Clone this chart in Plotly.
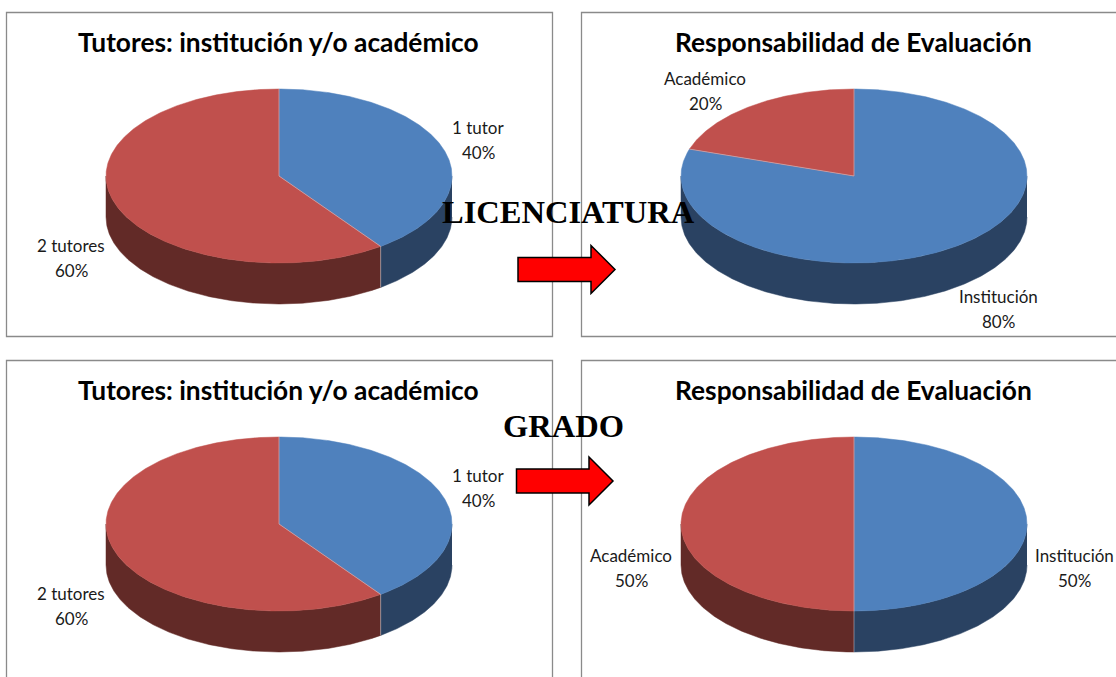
import numpy as np
import plotly.graph_objects as go

# ---- data ----
tutor_labels = ["1 tutor", "2 tutores"]
tutor_lic_values = [40, 60]
tutor_grado_values = [40, 60]
eval_labels = ["Institución", "Académico"]
eval_lic_values = [80, 20]
eval_grado_values = [50, 50]
title_tutor = "Tutores: institución y/o académico"
title_eval = "Responsabilidad de Evaluación"
heading_lic = "LICENCIATURA"
heading_grado = "GRADO"

# ---- style and layout (page pixels) ----
W, H = 1116, 677
TOP = ["#4F81BD", "#C0504D"]
SIDE = ["#2A4262", "#622A27"]
SEAM = "rgba(225,225,230,0.45)"
RX, RY, DEPTH = 173, 87, 41
BOX = "#8A8A8A"

panels = [
    dict(cx=279, cy=176, labels=tutor_labels, values=tutor_lic_values, title=title_tutor, ty=42,
         pos=[(478, 127), (71, 245)]),
    dict(cx=854, cy=176, labels=eval_labels, values=eval_lic_values, title=title_eval, ty=42,
         pos=[(998, 296), (705, 78)]),
    dict(cx=279, cy=524, labels=tutor_labels, values=tutor_grado_values, title=title_tutor, ty=390,
         pos=[(478, 475), (71, 593)]),
    dict(cx=854, cy=524, labels=eval_labels, values=eval_grado_values, title=title_eval, ty=390,
         pos=[(1074, 555), (631, 555)]),
]


def arc(cx, cy, t0, t1):
    t = np.radians(np.linspace(t0, t1, max(int(abs(t1 - t0) * 2), 2)))
    return cx + RX * np.sin(t), cy - RY * np.cos(t)


fig = go.Figure()
annotations = []


def add_poly(x, y, color):
    fig.add_trace(go.Scatter(x=list(x), y=list(y), mode="lines", fill="toself", fillcolor=color,
                             line=dict(color=color, width=0.5), hoverinfo="skip", showlegend=False))


def add_seam(x, y):
    fig.add_trace(go.Scatter(x=x, y=y, mode="lines", line=dict(color=SEAM, width=1),
                             hoverinfo="skip", showlegend=False))


for p in panels:
    cx, cy = p["cx"], p["cy"]
    total = sum(p["values"])
    edges = np.concatenate([[0], np.cumsum(p["values"]) / total * 360])
    # side walls: only the part of each slice on the front half of the rim
    for i in range(len(p["values"])):
        a, b = max(edges[i], 90), min(edges[i + 1], 270)
        if b > a:
            xt, yt = arc(cx, cy, a, b)
            add_poly(np.r_[xt, xt[::-1]], np.r_[yt, yt[::-1] + DEPTH], SIDE[i])
    # top faces
    for i in range(len(p["values"])):
        xt, yt = arc(cx, cy, edges[i], edges[i + 1])
        add_poly(np.r_[cx, xt, cx], np.r_[cy, yt, cy], TOP[i])
    # seams between the slices
    for e in edges[:-1]:
        ex, ey = arc(cx, cy, e, e + 0.01)
        add_seam([cx, ex[0]], [cy, ey[0]])
        if 90 <= e <= 270:
            add_seam([ex[0], ex[0]], [ey[0], ey[0] + DEPTH])
    # title and labels
    annotations.append(dict(x=cx - 0.5, y=p["ty"], text=f"<b>{p['title']}</b>", showarrow=False,
                            font=dict(family="Lato", size=26.3, color="#000000")))
    for (lx, ly), name, v in zip(p["pos"], p["labels"], p["values"]):
        annotations.append(dict(x=lx, y=ly, text=name, showarrow=False,
                                font=dict(family="Lato", size=17, color="#1a1a1a")))
        annotations.append(dict(x=lx, y=ly + 25, text=f"{round(v / total * 100)}%", showarrow=False,
                                font=dict(family="Lato", size=17, color="#1a1a1a")))

annotations.append(dict(x=568, y=212, text=f"<b>{heading_lic}</b>", showarrow=False,
                        font=dict(family="Liberation Serif", size=32.5, color="#000000")))
annotations.append(dict(x=563.5, y=426, text=f"<b>{heading_grado}</b>", showarrow=False,
                        font=dict(family="Liberation Serif", size=32.5, color="#000000")))

shapes = []
for x0, x1, y0, y1 in [(6.5, 552.5, 12.5, 336.5), (581.5, 1130, 12.5, 336.5),
                       (6.5, 552.5, 360.5, 700), (581.5, 1130, 360.5, 700)]:
    shapes.append(dict(type="rect", xref="x", yref="y", x0=x0, x1=x1, y0=y0, y1=y1,
                       line=dict(color=BOX, width=1.3), layer="below"))


def arrow(x0, x1, x2, ym, half_shaft, half_head):
    path = (f"M{x0},{ym - half_shaft} L{x1},{ym - half_shaft} L{x1},{ym - half_head} L{x2},{ym} "
            f"L{x1},{ym + half_head} L{x1},{ym + half_shaft} L{x0},{ym + half_shaft} Z")
    return dict(type="path", xref="x", yref="y", path=path, fillcolor="#FF0000",
                line=dict(color="#000000", width=1.5), layer="above")


shapes.append(arrow(518, 591, 615, 269.5, 12, 24))
shapes.append(arrow(516.5, 589, 613, 481, 12, 24))

fig.update_layout(
    width=W, height=H, autosize=False,
    margin=dict(l=0, r=0, t=0, b=0),
    paper_bgcolor="#FFFFFF", plot_bgcolor="#FFFFFF",
    showlegend=False,
    xaxis=dict(range=[0, W], visible=False, fixedrange=True),
    yaxis=dict(range=[H, 0], visible=False, fixedrange=True),
    shapes=shapes, annotations=annotations,
)
fig.write_html("out.html", config={"displayModeBar": False},
               post_script="document.body.style.margin='0';document.body.style.overflow='hidden';")
